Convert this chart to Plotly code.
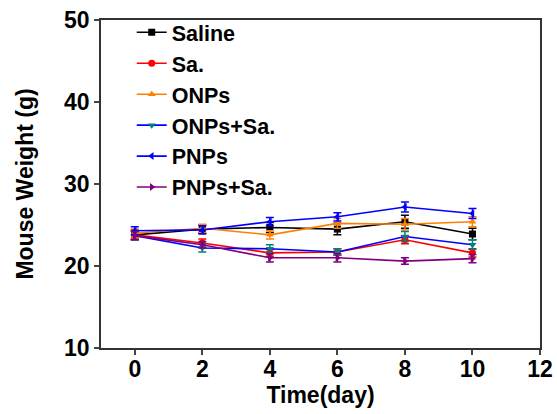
import plotly.graph_objects as go

days = [0, 2, 4, 6, 8, 10]
names = ["Saline", "Sa.", "ONPs", "ONPs+Sa.", "PNPs", "PNPs+Sa."]
saline = [23.8, 24.5, 24.7, 24.5, 25.4, 23.9]
sa = [23.8, 22.8, 21.6, 21.7, 23.2, 21.6]
onps = [24.0, 24.6, 23.8, 25.2, 25.1, 25.4]
onps_sa = [23.7, 22.2, 22.1, 21.7, 23.6, 22.6]
pnps = [24.3, 24.4, 25.4, 26.0, 27.2, 26.4]
pnps_sa = [23.7, 22.6, 21.0, 21.0, 20.6, 20.9]
saline_err = [0.6, 0.5, 0.6, 0.7, 0.8, 0.7]
sa_err = [0.5, 0.5, 0.4, 0.4, 0.5, 0.5]
onps_err = [0.5, 0.5, 0.5, 0.6, 0.7, 0.6]
onps_sa_err = [0.5, 0.5, 0.5, 0.4, 0.6, 0.6]
pnps_err = [0.5, 0.5, 0.5, 0.5, 0.6, 0.6]
pnps_sa_err = [0.5, 0.4, 0.5, 0.5, 0.4, 0.5]

series = [saline, sa, onps, onps_sa, pnps, pnps_sa]
errors = [saline_err, sa_err, onps_err, onps_sa_err, pnps_err, pnps_sa_err]
line_colors = ["#000000", "#ff0000", "#ff8000", "#0000ff", "#0000ff", "#800080"]
marker_colors = ["#000000", "#ff0000", "#ff8000", "#008080", "#0000ff", "#800080"]
symbols = ["square", "circle", "triangle-up", "triangle-down", "triangle-left", "triangle-right"]

FONT = "Liberation Sans, Arial"
FS = 23
fig = go.Figure()
for i, (n, y, e) in enumerate(zip(names, series, errors)):
    fig.add_trace(go.Scatter(
        x=days, y=y, name=n, mode="lines+markers",
        legendgroup=n,
        line=dict(color=line_colors[i], width=1.6),
        marker=dict(symbol=symbols[i], color=marker_colors[i], size=7),
        error_y=dict(type="data", array=e, visible=True, color=marker_colors[i], thickness=1.5, width=4),
    ))

fig.update_layout(
    width=557, height=414,
    margin=dict(l=101, r=17, t=20, b=66, autoexpand=False),
    paper_bgcolor="white", plot_bgcolor="white",
    font=dict(family=FONT, size=FS, color="black"),
    showlegend=True,
    legend=dict(x=0.07, y=1.025, xanchor="left", yanchor="top",
                font=dict(size=21.5, family=FONT, weight="bold"),
                bgcolor="rgba(0,0,0,0)", tracegroupgap=0, itemwidth=30),
    xaxis=dict(range=[-1, 12], tickvals=[0, 2, 4, 6, 8, 10, 12], ticks="outside",
               ticklen=5, tickwidth=1.5, linecolor="#333", linewidth=1.5, mirror=True,
               showgrid=False, zeroline=False, automargin=False, ticklabelstandoff=-5,
               tickfont=dict(size=FS, weight="bold"),
               title=dict(text="Time(day)", font=dict(size=FS, weight="bold"), standoff=0)),
    yaxis=dict(range=[10, 50], tickvals=[10, 20, 30, 40, 50], ticks="outside",
               ticklen=5, tickwidth=1.5, linecolor="#333", linewidth=1.5, mirror=True,
               showgrid=False, zeroline=False, automargin=False,
               tickfont=dict(size=FS, weight="bold"),
               title=dict(text="Mouse Weight (g)", font=dict(size=FS, weight="bold"), standoff=24)),
)

fig.write_html("out.html", config={"displayModeBar": False})
with open("out.html", "r", encoding="utf-8") as f:
    html = f.read()
html = html.replace("<head>", "<head><style>html,body{margin:0;padding:0;}</style>", 1)
with open("out.html", "w", encoding="utf-8") as f:
    f.write(html)
